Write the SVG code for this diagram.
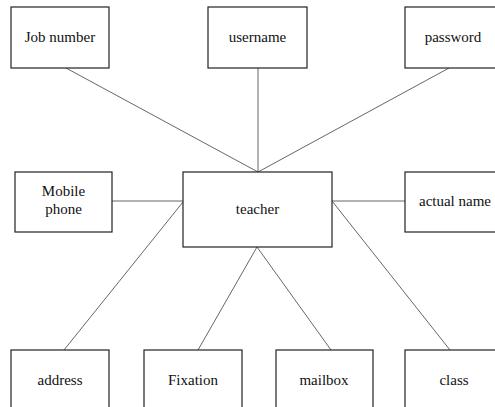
<svg xmlns="http://www.w3.org/2000/svg" width="495" height="407" viewBox="0 0 495 407">
  <style>
    .box { fill: #fff; stroke: #222; stroke-width: 1.2; }
    .lbl { font-size: 15px; fill: #111; text-anchor: middle; }
    .edge { stroke: #555; stroke-width: 0.9; fill: none; }
  </style>
  <rect width="495" height="407" fill="#fff"/>

  <!-- connectors -->
  <g id="connectors">
    <line class="edge" x1="66" y1="68" x2="258" y2="172"/>
    <line class="edge" x1="258" y1="68" x2="258" y2="172"/>
    <line class="edge" x1="449" y1="68" x2="258" y2="172"/>
    <line class="edge" x1="112" y1="201" x2="183" y2="201"/>
    <line class="edge" x1="332" y1="201" x2="405" y2="201"/>
    <line class="edge" x1="64" y1="350" x2="183" y2="202"/>
    <line class="edge" x1="198" y1="350" x2="257" y2="247"/>
    <line class="edge" x1="331" y1="350" x2="257" y2="247"/>
    <line class="edge" x1="450" y1="350" x2="332" y2="201"/>
  </g>

  <g font-family="Liberation Serif, DejaVu Serif, serif">
    <!-- entity: teacher -->
    <g id="teacher">
      <rect class="box" x="183" y="172" width="149" height="75"/>
      <text class="lbl" x="257.5" y="214">teacher</text>
    </g>

    <!-- attributes -->
    <g id="job-number">
      <rect class="box" x="11" y="7" width="98" height="61"/>
      <text class="lbl" x="60" y="42">Job number</text>
    </g>
    <g id="username">
      <rect class="box" x="208" y="7" width="99" height="61"/>
      <text class="lbl" x="257.5" y="42">username</text>
    </g>
    <g id="password">
      <rect class="box" x="405" y="7" width="96" height="61"/>
      <text class="lbl" x="453" y="42">password</text>
    </g>
    <g id="mobile-phone">
      <rect class="box" x="15" y="172" width="97" height="60"/>
      <text class="lbl" x="63.5" y="196">Mobile</text>
      <text class="lbl" x="63.5" y="214">phone</text>
    </g>
    <g id="actual-name">
      <rect class="box" x="405" y="172" width="96" height="60"/>
      <text class="lbl" x="455" y="206">actual name</text>
    </g>
    <g id="address">
      <rect class="box" x="11" y="350" width="98" height="70"/>
      <text class="lbl" x="60" y="385">address</text>
    </g>
    <g id="fixation">
      <rect class="box" x="144" y="350" width="98" height="70"/>
      <text class="lbl" x="193" y="385">Fixation</text>
    </g>
    <g id="mailbox">
      <rect class="box" x="276" y="350" width="97" height="70"/>
      <text class="lbl" x="324" y="385">mailbox</text>
    </g>
    <g id="class">
      <rect class="box" x="405" y="350" width="98" height="70"/>
      <text class="lbl" x="454" y="385">class</text>
    </g>
  </g>
</svg>
